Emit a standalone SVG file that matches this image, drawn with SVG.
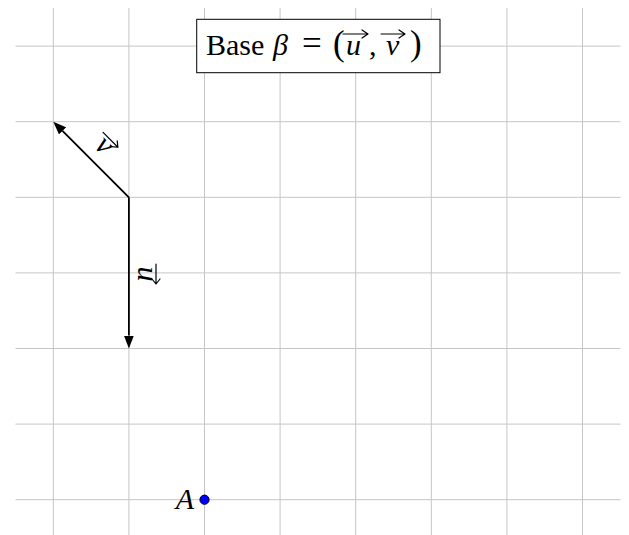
<svg xmlns="http://www.w3.org/2000/svg" width="629" height="535" viewBox="0 0 629 535">
<style>
.grid line{stroke:#c6c6c6;stroke-width:1}
.vec{stroke:#000;stroke-width:1.8;fill:none}
.t{font-family:"Liberation Serif","DejaVu Serif",serif;font-size:30px;fill:#000}
.i{font-style:italic}
.big{font-size:35px}
.ov{stroke:#000;stroke-width:1.2;fill:none;stroke-linecap:round;stroke-linejoin:round}
</style>
<defs>
<marker id="ah" viewBox="0 -5 13 10" refX="0" refY="0" markerWidth="13" markerHeight="10" markerUnits="userSpaceOnUse" orient="auto">
<path d="M0,-5 L13,0 L0,5 Z" fill="#000"/>
</marker>
</defs>
<rect width="629" height="535" fill="#fff"/>
<g id="grid" class="grid">
<line x1="53.3" y1="8" x2="53.3" y2="535"/>
<line x1="128.9" y1="8" x2="128.9" y2="535"/>
<line x1="204.5" y1="8" x2="204.5" y2="535"/>
<line x1="280.1" y1="8" x2="280.1" y2="535"/>
<line x1="355.7" y1="8" x2="355.7" y2="535"/>
<line x1="431.3" y1="8" x2="431.3" y2="535"/>
<line x1="506.9" y1="8" x2="506.9" y2="535"/>
<line x1="582.5" y1="8" x2="582.5" y2="535"/>
<line x1="15.5" y1="46.1" x2="620.5" y2="46.1"/>
<line x1="15.5" y1="121.7" x2="620.5" y2="121.7"/>
<line x1="15.5" y1="197.3" x2="620.5" y2="197.3"/>
<line x1="15.5" y1="272.9" x2="620.5" y2="272.9"/>
<line x1="15.5" y1="348.5" x2="620.5" y2="348.5"/>
<line x1="15.5" y1="424.1" x2="620.5" y2="424.1"/>
<line x1="15.5" y1="499.7" x2="620.5" y2="499.7"/>
</g>
<g id="connectors">
<line class="vec" x1="128.9" y1="197.3" x2="128.9" y2="335.5" marker-end="url(#ah)"/>
<line class="vec" x1="128.9" y1="197.3" x2="62.5" y2="130.9" marker-end="url(#ah)"/>
</g>
<g id="label-u" transform="translate(147,274) rotate(90)">
<text class="t i" x="0" y="9" text-anchor="middle">u</text>
<path class="ov" d="M-10,-9 L10,-9 M5,-13 L10,-9 L5,-5"/>
</g>
<g id="label-v" transform="translate(108,143) rotate(45)">
<text class="t i" x="-1" y="13" text-anchor="middle">v</text>
<path class="ov" d="M-11,-4 L10,-4 M5,-8 L10,-4 L5,0"/>
</g>
<g id="node-title">
<rect x="196.7" y="19.3" width="243.3" height="53.4" fill="#fff" stroke="#000" stroke-width="1"/>
<text class="t" y="55"><tspan x="206">Base</tspan><tspan class="i" x="273">β</tspan><tspan class="big" x="302">=</tspan><tspan class="big" x="333">(</tspan><tspan class="i" x="346">u</tspan><tspan x="369">,</tspan><tspan class="i" x="386">v</tspan><tspan class="big" x="410">)</tspan></text>
<path class="ov" d="M343,34 L368,34 M362,30 L368,34 L362,38"/>
<path class="ov" d="M381,34 L405,34 M399,30 L405,34 L399,38"/>
</g>
<g id="node-A">
<circle cx="204.5" cy="499.7" r="4.6" fill="#0000ff" stroke="#000" stroke-width="1"/>
<text class="t i" x="194" y="509" text-anchor="end">A</text>
</g>
</svg>
